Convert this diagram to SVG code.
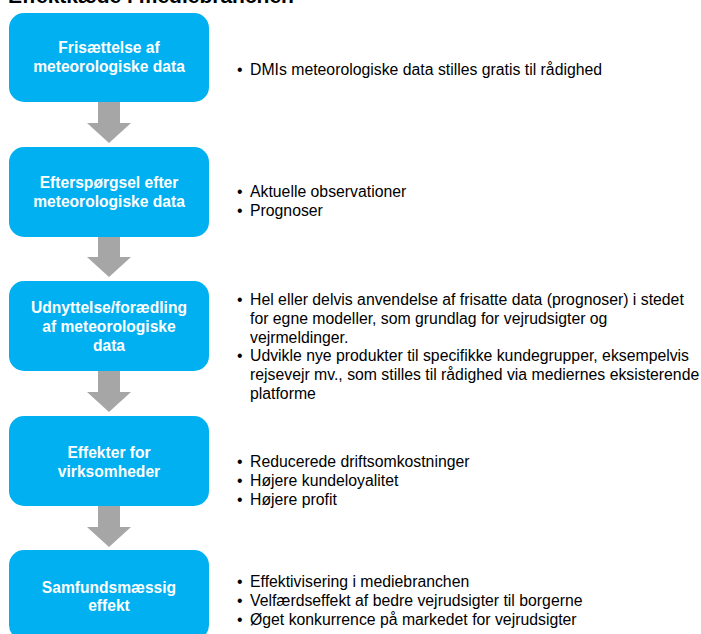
<svg xmlns="http://www.w3.org/2000/svg" width="701" height="634" viewBox="0 0 701 634">
<style>
.box{fill:#00B0F0}
.bt{font-family:"Liberation Sans",Arial,sans-serif;font-weight:bold;font-size:15.6px;fill:#fff;text-anchor:middle}
.rt{font-family:"Liberation Sans",Arial,sans-serif;font-size:15.8px;fill:#000}
.arr{fill:#A6A6A6}
.title{font-family:"Liberation Sans",Arial,sans-serif;font-weight:bold;font-size:21px;fill:#000}
</style>
<rect width="701" height="634" fill="#fff"/>
<text class="title" x="8" y="3">Effektkæde i mediebranchen</text>
<g id="connectors">
<polygon class="arr" points="98,101 120,101 120,123 131,123 109,143 87,123 98,123"/>
<polygon class="arr" points="98,236 120,236 120,257 131,257 109,277 87,257 98,257"/>
<polygon class="arr" points="98,370 120,370 120,392 131,392 109,412 87,392 98,392"/>
<polygon class="arr" points="98,505 120,505 120,527 131,527 109,547 87,527 98,527"/>
</g>
<g id="n1">
<rect class="box" x="9" y="13" width="200" height="89" rx="15"/>
<text class="bt" x="109" y="53">Frisættelse af</text>
<text class="bt" x="109" y="72">meteorologiske data</text>
</g>
<g id="n2">
<rect class="box" x="9" y="147" width="200" height="90" rx="15"/>
<text class="bt" x="109" y="188">Efterspørgsel efter</text>
<text class="bt" x="109" y="207">meteorologiske data</text>
</g>
<g id="n3">
<rect class="box" x="9" y="281" width="200" height="90" rx="15"/>
<text class="bt" x="109" y="313">Udnyttelse/forædling</text>
<text class="bt" x="109" y="332">af meteorologiske</text>
<text class="bt" x="109" y="351">data</text>
</g>
<g id="n4">
<rect class="box" x="9" y="416" width="200" height="90" rx="15"/>
<text class="bt" x="109" y="458">Effekter for</text>
<text class="bt" x="109" y="477">virksomheder</text>
</g>
<g id="n5">
<rect class="box" x="9" y="550" width="200" height="90" rx="15"/>
<text class="bt" x="109" y="593">Samfundsmæssig</text>
<text class="bt" x="109" y="611">effekt</text>
</g>
<g id="d1" class="rt">
<text x="237" y="75">•</text><text x="250" y="75">DMIs meteorologiske data stilles gratis til rådighed</text>
</g>
<g id="d2" class="rt">
<text x="237" y="197">•</text><text x="250" y="197">Aktuelle observationer</text>
<text x="237" y="216">•</text><text x="250" y="216">Prognoser</text>
</g>
<g id="d3" class="rt">
<text x="237" y="305">•</text><text x="250" y="305">Hel eller delvis anvendelse af frisatte data (prognoser) i stedet</text>
<text x="250" y="323.8">for egne modeller, som grundlag for vejrudsigter og</text>
<text x="250" y="342.6">vejrmeldinger.</text>
<text x="237" y="361.4">•</text><text x="250" y="361.4">Udvikle nye produkter til specifikke kundegrupper, eksempelvis</text>
<text x="250" y="380.2">rejsevejr mv., som stilles til rådighed via mediernes eksisterende</text>
<text x="250" y="399">platforme</text>
</g>
<g id="d4" class="rt">
<text x="237" y="467">•</text><text x="250" y="467">Reducerede driftsomkostninger</text>
<text x="237" y="486">•</text><text x="250" y="486">Højere kundeloyalitet</text>
<text x="237" y="505">•</text><text x="250" y="505">Højere profit</text>
</g>
<g id="d5" class="rt">
<text x="237" y="587">•</text><text x="250" y="587">Effektivisering i mediebranchen</text>
<text x="237" y="606">•</text><text x="250" y="606">Velfærdseffekt af bedre vejrudsigter til borgerne</text>
<text x="237" y="625">•</text><text x="250" y="625">Øget konkurrence på markedet for vejrudsigter</text>
</g>
</svg>
